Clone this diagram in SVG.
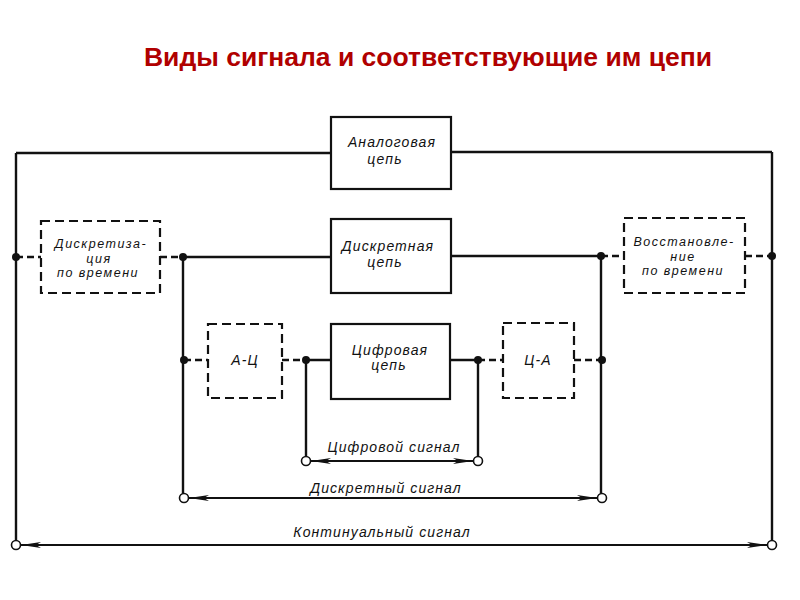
<svg xmlns="http://www.w3.org/2000/svg" width="800" height="600" viewBox="0 0 800 600">
<defs>
<style>
.box{fill:#fff;stroke:#111;stroke-width:2.2}
.dbox{fill:#fff;stroke:#111;stroke-width:2.2;stroke-dasharray:9,5}
.w{fill:none;stroke:#111;stroke-width:2.4}
.dw{fill:none;stroke:#111;stroke-width:2.4;stroke-dasharray:7,4}
.a{fill:none;stroke:#111;stroke-width:1.8}
.dot{fill:#111}
.oc{fill:#fff;stroke:#111;stroke-width:1.6}
.t{font-family:"Liberation Sans",Arial,sans-serif;font-style:italic;font-size:14px;letter-spacing:1.1px;fill:#111;text-anchor:middle}
.t3{font-family:"Liberation Sans",Arial,sans-serif;font-style:italic;font-size:12.5px;letter-spacing:1.5px;fill:#111;text-anchor:middle}
.title{font-family:"Liberation Sans",Arial,sans-serif;font-weight:bold;font-size:26.5px;fill:#b00000;text-anchor:middle}
</style>
<marker id="ah" viewBox="0 0 20 8" refX="20" refY="4" markerWidth="20" markerHeight="8" markerUnits="userSpaceOnUse" orient="auto-start-reverse">
<path d="M0,1 L20,4 L0,7 L5,4 Z" fill="#111"/>
</marker>
</defs>
<rect width="800" height="600" fill="#fff"/>
<text class="title" x="428" y="66">Виды сигнала и соответствующие им цепи</text>

<g id="connectors">
<path class="w" d="M16,153 H330 M451,152 H772 M16,153 V545 M772,152 V545"/>
<path class="dw" d="M16,257 H41 M160,257 H183 M601,256 H624 M745,256 H772"/>
<path class="w" d="M183,257 H330 M451,256 H601 M183,257 V498 M601,256 V498"/>
<path class="dw" d="M184,360 H208 M282,360 H306 M478,360 H503 M574,360 H602"/>
<path class="w" d="M306,360 H331 M450,360 H478 M306,360 V461 M478,360 V461"/>
<line class="a" x1="311" y1="461" x2="473" y2="461" marker-start="url(#ah)" marker-end="url(#ah)"/>
<line class="a" x1="189" y1="498" x2="597" y2="498" marker-start="url(#ah)" marker-end="url(#ah)"/>
<line class="a" x1="21" y1="545" x2="767" y2="545" marker-start="url(#ah)" marker-end="url(#ah)"/>
<circle class="dot" cx="16" cy="257" r="4"/>
<circle class="dot" cx="183" cy="257" r="4"/>
<circle class="dot" cx="601" cy="256" r="4"/>
<circle class="dot" cx="772" cy="256" r="4"/>
<circle class="dot" cx="184" cy="360" r="4"/>
<circle class="dot" cx="306" cy="360" r="4"/>
<circle class="dot" cx="478" cy="360" r="4"/>
<circle class="dot" cx="602" cy="360" r="4"/>
<circle class="oc" cx="306" cy="461" r="4.5"/>
<circle class="oc" cx="478" cy="461" r="4.5"/>
<circle class="oc" cx="184" cy="498" r="4.5"/>
<circle class="oc" cx="602" cy="498" r="4.5"/>
<circle class="oc" cx="16" cy="545" r="4.5"/>
<circle class="oc" cx="772" cy="545" r="4.5"/>
<text class="t" x="394" y="452">Цифровой сигнал</text>
<text class="t" x="386" y="493">Дискретный сигнал</text>
<text class="t" x="382" y="537">Континуальный сигнал</text>
</g>

<g id="analog">
<rect class="box" x="331" y="117" width="120" height="72"/>
<text class="t" x="392" y="147">Аналоговая</text>
<text class="t" x="385" y="164">цепь</text>
</g>
<g id="discretization">
<rect class="dbox" x="41" y="221" width="119" height="72"/>
<text class="t3" x="101" y="248">Дискретиза-</text>
<text class="t3" x="99" y="262.5">ция</text>
<text class="t3" x="98" y="277">по времени</text>
</g>
<g id="discrete">
<rect class="box" x="331" y="219" width="120" height="74"/>
<text class="t" x="388" y="251">Дискретная</text>
<text class="t" x="385" y="267">цепь</text>
</g>
<g id="restoration">
<rect class="dbox" x="624" y="218" width="121" height="75"/>
<text class="t3" x="684" y="246">Восстановле-</text>
<text class="t3" x="683" y="260.5">ние</text>
<text class="t3" x="683" y="275">по времени</text>
</g>
<g id="adc">
<rect class="dbox" x="208" y="324" width="74" height="74"/>
<text class="t" x="245" y="365">А-Ц</text>
</g>
<g id="digital">
<rect class="box" x="331" y="324" width="119" height="75"/>
<text class="t" x="390" y="355">Цифровая</text>
<text class="t" x="389" y="370">цепь</text>
</g>
<g id="dac">
<rect class="dbox" x="503" y="323" width="71" height="75"/>
<text class="t" x="538" y="365">Ц-А</text>
</g>
</svg>
